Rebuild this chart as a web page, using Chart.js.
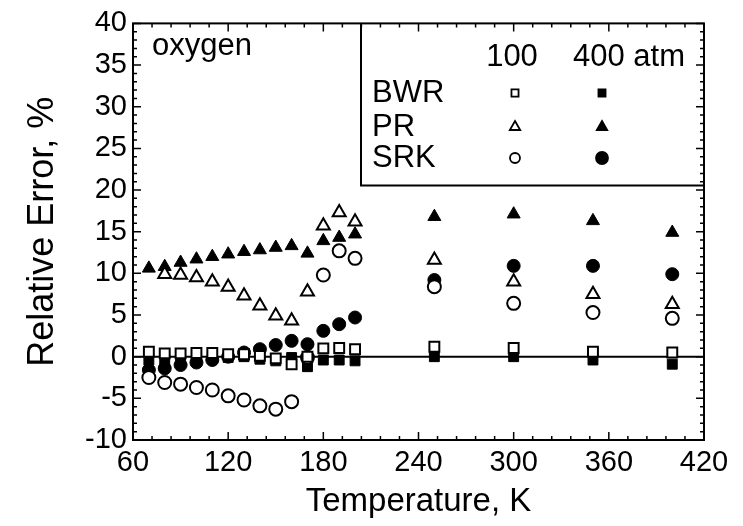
<!DOCTYPE html>
<html>
<head>
<meta charset="utf-8">
<script src="https://cdn.jsdelivr.net/npm/chart.js@4.4.1/dist/chart.umd.min.js"></script>
<style>
  html, body { margin: 0; padding: 0; background: #fff; }
  #wrap { width: 743px; height: 526px; }
</style>
</head>
<body>
<div id="wrap"><canvas id="chart" width="743" height="526"></canvas></div>
<script>
// ── data ───────────────────────────────────────────────────
const temps  = [70, 80, 90, 100, 110, 120, 130, 140, 150, 160, 170, 180, 190, 200, 250, 300, 350, 400];
const bwr100 = [0.6, 0.4, 0.4, 0.45, 0.45, 0.3, 0.3, 0.1, -0.2, -0.9, 0.0, 1.0, 1.05, 0.9, 1.2, 1.05, 0.6, 0.5];
const bwr400 = [-0.4, -0.35, -0.3, -0.3, -0.2, -0.1, 0.0, -0.3, -0.5, -0.1, -1.2, -0.4, -0.4, -0.5, 0.0, 0.0, -0.4, -0.9];
const pr100  = [null, 9.9, 9.8, 9.5, 9.0, 8.35, 7.3, 6.1, 4.9, 4.3, 7.8, 15.7, 17.3, 16.2, 11.6, 9.0, 7.5, 6.3];
const pr400  = [10.6, 10.8, 11.3, 11.7, 12.0, 12.3, 12.6, 12.8, 13.1, 13.3, 12.4, 13.9, 14.3, 14.7, 16.8, 17.1, 16.3, 14.9];
const srk100 = [-2.5, -3.1, -3.3, -3.7, -4.0, -4.7, -5.2, -5.9, -6.3, -5.4, -0.1, 9.8, 12.7, 11.8, 8.4, 6.4, 5.3, 4.6];
const srk400 = [-1.6, -1.4, -1.0, -0.7, -0.4, 0.0, 0.5, 0.9, 1.4, 1.9, 1.5, 3.1, 3.9, 4.7, 9.2, 10.9, 10.9, 9.9];

const xTicks = [60, 120, 180, 240, 300, 360, 420];
const yTicks = [-10, -5, 0, 5, 10, 15, 20, 25, 30, 35, 40];
const legendRows = ['BWR', 'PR', 'SRK'];
const legendCols = ['100', '400 atm'];

const FONT = 'Liberation Sans, Arial, Helvetica, sans-serif';
const INK  = '#000';

// ── helpers ────────────────────────────────────────────────
const pts = vals => temps.map((t, i) => ({ x: t, y: vals[i] })).filter(p => p.y !== null);

const RADIUS = { rect: 7, triangle: 7.5, circle: 6.5 };

function series(label, vals, style, filled) {
  return {
    label,
    data: pts(vals),
    pointStyle: style,
    pointRadius: RADIUS[style],
    pointHoverRadius: RADIUS[style],
    backgroundColor: filled ? INK : '#fff',
    borderColor: INK,
    borderWidth: filled ? 1 : 2,
    order: filled ? 2 : 1,
    showLine: false,
  };
}

function drawMark(ctx, style, filled, x, y, r) {
  ctx.beginPath();
  if (style === 'rect') {
    const s = r * Math.SQRT1_2;
    ctx.rect(x - s, y - s, 2 * s, 2 * s);
  } else if (style === 'triangle') {
    ctx.moveTo(x, y - r);
    ctx.lineTo(x + r * 0.866, y + r * 0.5);
    ctx.lineTo(x - r * 0.866, y + r * 0.5);
    ctx.closePath();
  } else {
    ctx.arc(x, y, r, 0, Math.PI * 2);
  }
  ctx.fillStyle = filled ? INK : '#fff';
  ctx.fill();
  ctx.lineWidth = 1.8;
  ctx.strokeStyle = INK;
  ctx.stroke();
}

// ── frame, inward ticks, zero line, legend box ─────────────
const framePlugin = {
  id: 'framePlugin',
  beforeDatasetsDraw(chart) {
    const { ctx, chartArea: a, scales: { y } } = chart;
    const y0 = y.getPixelForValue(0);
    ctx.save();
    ctx.strokeStyle = INK;
    ctx.lineWidth = 2;
    ctx.beginPath();
    ctx.moveTo(a.left, y0);
    ctx.lineTo(a.right, y0);
    ctx.stroke();
    ctx.restore();
  },
  afterDraw(chart) {
    const { ctx, chartArea: a, scales: { x, y } } = chart;
    ctx.save();
    ctx.strokeStyle = INK;
    ctx.lineWidth = 2;
    ctx.strokeRect(a.left, a.top, a.right - a.left, a.bottom - a.top);

    ctx.lineWidth = 1.5;
    ctx.beginPath();
    for (let v = x.min; v <= x.max; v += 12) {
      const px = x.getPixelForValue(v);
      const len = (v - x.min) % 60 === 0 ? 8 : 4;
      ctx.moveTo(px, a.bottom); ctx.lineTo(px, a.bottom - len);
      ctx.moveTo(px, a.top);    ctx.lineTo(px, a.top + len);
    }
    for (let v = y.min; v <= y.max; v += 1) {
      const py = y.getPixelForValue(v);
      const len = v % 5 === 0 ? 8 : 4;
      ctx.moveTo(a.left, py);  ctx.lineTo(a.left + len, py);
      ctx.moveTo(a.right, py); ctx.lineTo(a.right - len, py);
    }
    ctx.stroke();

    // legend box
    const bx = a.left + 228, by = a.top + 162;
    ctx.lineWidth = 2;
    ctx.beginPath();
    ctx.moveTo(bx, a.top);
    ctx.lineTo(bx, by);
    ctx.lineTo(a.right, by);
    ctx.stroke();

    ctx.fillStyle = INK;
    ctx.font = '31px ' + FONT;
    ctx.textBaseline = 'middle';
    ctx.textAlign = 'center';
    ctx.fillText(legendCols[0], 512, 57);
    ctx.textAlign = 'left';
    ctx.fillText(legendCols[1], 573, 57);

    const styles = ['rect', 'triangle', 'circle'];
    const legR   = { rect: 5, triangle: 6, circle: 5 };
    const rowsY  = [93, 127, 158];
    legendRows.forEach((name, i) => {
      ctx.fillStyle = INK;
      ctx.textAlign = 'left';
      ctx.fillText(name, 372, rowsY[i]);
      drawMark(ctx, styles[i], false, 515, rowsY[i], legR[styles[i]]);
      drawMark(ctx, styles[i], true, 602, rowsY[i], legR[styles[i]] + (i === 2 ? 1 : 0));
    });

    ctx.fillStyle = INK;
    ctx.textAlign = 'left';
    ctx.font = '31px ' + FONT;
    ctx.fillText('oxygen', 152, 46);
    ctx.restore();
  }
};

// ── chart ──────────────────────────────────────────────────
new Chart(document.getElementById('chart'), {
  type: 'scatter',
  data: {
    datasets: [
      series('BWR 100 atm', bwr100, 'rect', false),
      series('PR 100 atm',  pr100,  'triangle', false),
      series('SRK 100 atm', srk100, 'circle', false),
      series('BWR 400 atm', bwr400, 'rect', true),
      series('PR 400 atm',  pr400,  'triangle', true),
      series('SRK 400 atm', srk400, 'circle', true),
    ]
  },
  options: {
    responsive: false,
    animation: false,
    devicePixelRatio: 1,
    layout: { padding: { left: 0, right: 39, top: 20, bottom: 0 } },
    plugins: { legend: { display: false }, tooltip: { enabled: false } },
    scales: {
      x: {
        type: 'linear', min: 60, max: 420,
        afterBuildTicks: s => { s.ticks = xTicks.map(v => ({ value: v })); },
        afterFit: s => { s.height = 86; },
        grid: { display: false, drawTicks: false },
        border: { display: false },
        ticks: { color: INK, font: { family: FONT, size: 29 }, padding: 6, maxRotation: 0 },
        title: { display: true, text: 'Temperature, K', color: INK,
                 font: { family: FONT, size: 33 }, padding: { top: 0, bottom: 4 } }
      },
      y: {
        type: 'linear', min: -10, max: 40,
        afterBuildTicks: s => { s.ticks = yTicks.map(v => ({ value: v })); },
        afterFit: s => { s.width = 133; },
        grid: { display: false, drawTicks: false },
        border: { display: false },
        ticks: { color: INK, font: { family: FONT, size: 29 }, padding: 6 },
        title: { display: true, text: 'Relative Error, %', color: INK,
                 font: { family: FONT, size: 36 }, padding: { top: 21, bottom: 0 } }
      }
    }
  },
  plugins: [framePlugin]
});
</script>
</body>
</html>
